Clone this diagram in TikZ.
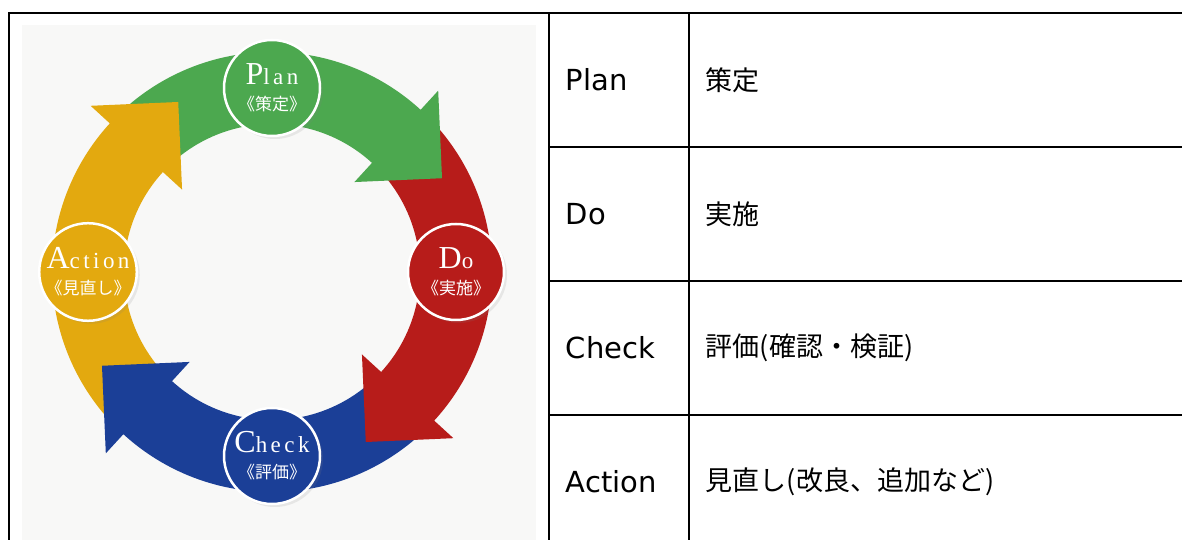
\documentclass[tikz,border=0pt]{standalone}
\usepackage{fontspec}
\usepackage{tikz}
\usetikzlibrary{calc,shadows}
\newfontfamily\keyfont{DejaVu Sans}
\newfontfamily\cjk{Noto Sans CJK JP}
\newfontfamily\capfont[LetterSpace=15]{Liberation Serif}
\definecolor{pgreen}{HTML}{4CA84F}
\definecolor{pred}{HTML}{B71C1A}
\definecolor{pblue}{HTML}{1B3F97}
\definecolor{pgold}{HTML}{E3A90F}
\definecolor{photobg}{HTML}{F8F8F7}
\tikzset{
  cell/.style={draw=black, line width=1.8pt, anchor=north west, minimum height=134pt, inner xsep=17pt, inner ysep=0pt, align=left},
  keycell/.style={cell, text width=106pt, font=\keyfont\fontsize{29}{34}\selectfont},
  textcell/.style={cell, text width=520pt, font=\cjk\fontsize{27}{32}\selectfont},
  stage/.style={circle, draw=white, line width=2.5pt, minimum size=96pt, inner sep=0pt, text=white, align=center, font=\fontsize{16}{26}\selectfont, drop shadow={shadow xshift=3pt, shadow yshift=-3pt, opacity=0.15}}
}
\newcommand{\stagename}[3]{{\capfont\fontsize{32}{26}\selectfont #1\fontsize{23}{26}\selectfont #2}\\{\cjk\fontsize{17}{26}\selectfont 《#3》}}

\begin{document}
\begin{tikzpicture}[x=1pt, y=1pt]
  \useasboundingbox (0,0) rectangle (1182,540);
  \clip (0,0) rectangle (1182,540);

  \node[cell, minimum width=540pt, minimum height=545pt] (photocell) at (8,528) {};
  \node[fill=photobg, anchor=south west, inner sep=0pt, minimum width=514pt, minimum height=515pt] (photo) at (22,0) {};

  \coordinate (c) at (272,268);
  \foreach \col/\ang in {pgreen/47.5, pred/-42.5, pblue/-132.5, pgold/137.5}
    \fill[\col] ($(c)+(\ang+89:220)$) arc[start angle=\ang+89, end angle=\ang-4, radius=220] -- ($(c)+(\ang-4:148)$) arc[start angle=\ang-4, end angle=\ang+89, radius=148] -- cycle;
  \foreach \col/\ang in {pgreen/47.5, pred/-42.5, pblue/-132.5, pgold/137.5}
    \fill[\col] ($(c)+(\ang:246)$) -- ($(c)+(\ang:184)+(\ang-90:62)$) -- ($(c)+(\ang:122)$) -- cycle;

  \foreach \name/\col/\ang/\first/\rest/\jp in {plan/pgreen/90/P/lan/策定, do/pred/0/D/o/実施, check/pblue/-90/C/heck/評価, action/pgold/180/A/ction/見直し}
    \node[stage, fill=\col] (\name) at ($(c)+(\ang:184)$) {\stagename{\first}{\rest}{\jp}};

  \foreach \key/\txt [count=\i] in {Plan/策定, Do/実施, Check/評価(確認・検証), Action/見直し(改良、追加など)} {
    \node[keycell] (key\i) at (548, 662-134*\i) {\key};
    \node[textcell] (txt\i) at (688, 662-134*\i) {\txt};
  }
\end{tikzpicture}
\end{document}
